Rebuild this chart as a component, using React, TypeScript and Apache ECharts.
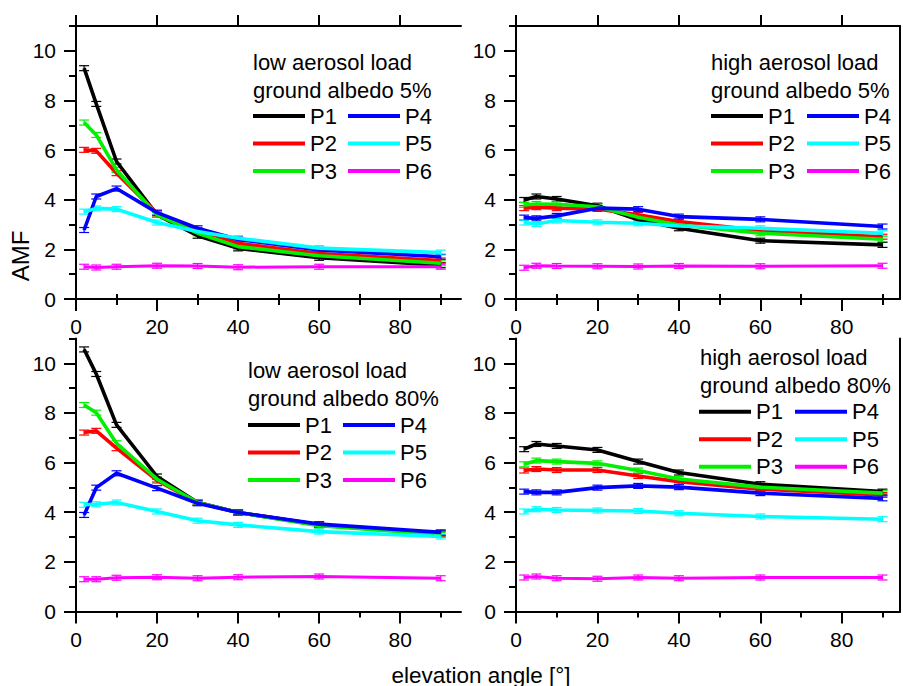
import React, { useEffect, useRef } from "react";
import * as echarts from "echarts";

const ANGLES = [2, 5, 10, 20, 30, 40, 60, 90];
const NAMES = ["P1", "P2", "P3", "P4", "P5", "P6"];
const COLORS = ["#000000", "#ff0000", "#00f000", "#0000ff", "#00ffff", "#ff00ff"];

const LOW_5 = [
  [9.3, 7.86, 5.54, 3.39, 2.55, 2.04, 1.66, 1.36],
  [6.01, 5.97, 5.07, 3.45, 2.78, 2.24, 1.83, 1.55],
  [7.11, 6.61, 5.2, 3.39, 2.65, 2.11, 1.74, 1.44],
  [2.78, 4.13, 4.45, 3.48, 2.85, 2.4, 1.98, 1.7],
  [3.52, 3.65, 3.62, 3.08, 2.72, 2.45, 2.05, 1.87],
  [1.3, 1.27, 1.3, 1.34, 1.33, 1.28, 1.3, 1.3],
];
const HIGH_5 = [
  [3.99, 4.13, 4.03, 3.76, 3.19, 2.85, 2.35, 2.18],
  [3.66, 3.7, 3.66, 3.63, 3.39, 3.12, 2.76, 2.51],
  [3.79, 3.83, 3.82, 3.72, 3.29, 2.98, 2.65, 2.41],
  [3.28, 3.25, 3.35, 3.66, 3.62, 3.32, 3.21, 2.92],
  [3.08, 3.02, 3.16, 3.09, 3.05, 2.94, 2.85, 2.65],
  [1.26, 1.34, 1.33, 1.32, 1.31, 1.33, 1.32, 1.34],
];
const LOW_80 = [
  [10.56, 9.57, 7.52, 5.44, 4.39, 3.99, 3.49, 3.15],
  [7.21, 7.28, 6.58, 5.28, 4.39, 3.99, 3.49, 3.11],
  [8.32, 8.01, 6.78, 5.33, 4.39, 3.99, 3.46, 3.09],
  [3.89, 4.99, 5.57, 4.97, 4.36, 3.99, 3.52, 3.19],
  [4.3, 4.32, 4.39, 4.03, 3.66, 3.49, 3.22, 3.02],
  [1.3, 1.3, 1.36, 1.38, 1.34, 1.38, 1.41, 1.34],
];
const HIGH_80 = [
  [6.54, 6.75, 6.67, 6.51, 6.04, 5.6, 5.13, 4.83],
  [5.68, 5.74, 5.7, 5.7, 5.46, 5.23, 4.93, 4.7],
  [5.93, 6.08, 6.04, 5.97, 5.68, 5.34, 5.01, 4.77],
  [4.83, 4.8, 4.8, 4.99, 5.06, 5.01, 4.77, 4.56],
  [4.03, 4.12, 4.09, 4.07, 4.05, 3.96, 3.83, 3.72],
  [1.37, 1.41, 1.34, 1.32, 1.37, 1.34, 1.37, 1.37],
];

const PANEL_TITLES = [
  "low aerosol load\nground albedo 5%",
  "high aerosol load\nground albedo 5%",
  "low aerosol load\nground albedo 80%",
  "high aerosol load\nground albedo 80%",
];
const PANEL_DATA = [LOW_5, HIGH_5, LOW_80, HIGH_80];

const X_MAJOR = [0, 20, 40, 60, 80];
const X_MINOR = [10, 30, 50, 70, 90];
const Y_MAJOR = [0, 2, 4, 6, 8, 10];
const Y_MINOR = [1, 3, 5, 7, 9, 11];

const X_LABEL = "elevation angle [°]";
const Y_LABEL = "AMF";

const FONT = "'Liberation Sans', Arial, Helvetica, sans-serif";
const ERR = 0.1;

// layout (style only)
const GRIDS = [
  { left: 76, top: 26, width: 385, height: 273, xmax: 95, topLine: true, rightLine: false },
  { left: 516, top: 26, width: 384, height: 273, xmax: 94.3, topLine: true, rightLine: true },
  { left: 76, top: 338.5, width: 385, height: 273, xmax: 95, topLine: false, rightLine: false },
  { left: 516, top: 338.5, width: 384, height: 273, xmax: 94.3, topLine: false, rightLine: true },
];
const TITLE_POS = [
  { left: 253, top: 48 },
  { left: 711, top: 48 },
  { left: 248, top: 356 },
  { left: 700, top: 343.5 },
];
const LEGEND_POS = [
  { l1: 253, l2: 348, row: 116 },
  { l1: 711, l2: 807, row: 116 },
  { l1: 248, l2: 343, row: 425 },
  { l1: 699, l2: 795, row: 411.7 },
];

function buildOption() {
  const grid: any[] = [];
  const xAxis: any[] = [];
  const yAxis: any[] = [];
  const series: any[] = [];
  const title: any[] = [];
  const legend: any[] = [];
  const axisLineStyle = { color: "#000", width: 2 };

  GRIDS.forEach((g, gi) => {
    grid.push({ left: g.left, top: g.top, width: g.width, height: g.height, containLabel: false });
    const base = { gridIndex: gi, type: "value", min: 0, max: g.xmax, splitLine: { show: false } };
    const xMainIndex = xAxis.length;
    xAxis.push({
      ...base,
      position: "bottom",
      axisLine: { show: true, onZero: false, lineStyle: axisLineStyle },
      axisTick: { show: true, inside: false, length: 12, customValues: X_MAJOR, lineStyle: axisLineStyle },
      axisLabel: { show: true, customValues: X_MAJOR, fontSize: 21, color: "#000", fontFamily: FONT, margin: 17 },
    });
    xAxis.push({
      ...base,
      position: "bottom",
      axisLine: { show: false },
      axisTick: { show: true, inside: false, length: 6, customValues: X_MINOR, lineStyle: axisLineStyle },
      axisLabel: { show: false },
    });
    if (g.topLine) {
      xAxis.push({
        ...base,
        position: "top",
        axisLine: { show: true, onZero: false, lineStyle: axisLineStyle },
        axisTick: { show: true, inside: false, length: 11, customValues: X_MAJOR, lineStyle: axisLineStyle },
        axisLabel: { show: false },
      });
      xAxis.push({
        ...base,
        position: "top",
        axisLine: { show: false },
        axisTick: { show: true, inside: false, length: 5, customValues: X_MINOR, lineStyle: axisLineStyle },
        axisLabel: { show: false },
      });
    }
    const ybase = { gridIndex: gi, type: "value", min: 0, max: 11, splitLine: { show: false } };
    const yMainIndex = yAxis.length;
    yAxis.push({
      ...ybase,
      position: "left",
      axisLine: { show: true, onZero: false, lineStyle: axisLineStyle },
      axisTick: { show: true, inside: false, length: 12, customValues: Y_MAJOR, lineStyle: axisLineStyle },
      axisLabel: { show: true, customValues: Y_MAJOR, fontSize: 21, color: "#000", fontFamily: FONT, margin: 20 },
    });
    yAxis.push({
      ...ybase,
      position: "left",
      axisLine: { show: false },
      axisTick: { show: true, inside: false, length: 7, customValues: Y_MINOR, lineStyle: axisLineStyle },
      axisLabel: { show: false },
    });
    if (g.rightLine) {
      yAxis.push({
        ...ybase,
        position: "right",
        axisLine: { show: true, onZero: false, lineStyle: axisLineStyle },
        axisTick: { show: false },
        axisLabel: { show: false },
      });
    }

    const panel = PANEL_DATA[gi];
    panel.forEach((vals, si) => {
      const pts = ANGLES.map((a, i) => [a, vals[i]]);
      const color = COLORS[si];
      series.push({
        type: "custom",
        name: NAMES[si] + " error",
        xAxisIndex: xMainIndex,
        yAxisIndex: yMainIndex,
        data: pts,
        encode: { x: 0, y: 1 },
        z: 1,
        renderItem: (params: any, api: any) => {
          const x = api.value(0);
          const y = api.value(1);
          const t = api.coord([x, y + ERR]);
          const b = api.coord([x, y - ERR]);
          const hw = 5;
          const st = { stroke: color, lineWidth: 1.2 };
          return {
            type: "group",
            children: [
              { type: "line", shape: { x1: t[0], y1: t[1], x2: b[0], y2: b[1] }, style: st },
              { type: "line", shape: { x1: t[0] - hw, y1: t[1], x2: t[0] + hw, y2: t[1] }, style: st },
              { type: "line", shape: { x1: b[0] - hw, y1: b[1], x2: b[0] + hw, y2: b[1] }, style: st },
            ],
          };
        },
      });
      series.push({
        type: "line",
        name: NAMES[si],
        xAxisIndex: xMainIndex,
        yAxisIndex: yMainIndex,
        data: pts,
        symbol: "none",
        lineStyle: { color, width: si === 5 ? 3 : 3.6 },
        itemStyle: { color },
        z: 2 + si * 0.01,
      });
    });

    title.push({
      text: PANEL_TITLES[gi],
      left: TITLE_POS[gi].left,
      top: TITLE_POS[gi].top,
      padding: 0,
      textStyle: { fontSize: 22, fontWeight: "normal", lineHeight: 28, color: "#000", fontFamily: FONT },
    });
    const lp = LEGEND_POS[gi];
    const legendCommon = {
      orient: "vertical",
      top: lp.row - 11,
      padding: 0,
      itemWidth: 52,
      itemHeight: 4,
      itemGap: 5.5,
      icon: "rect",
      selectedMode: false,
      textStyle: { fontSize: 22, lineHeight: 22, color: "#000", fontFamily: FONT },
    };
    legend.push({ ...legendCommon, left: lp.l1, data: NAMES.slice(0, 3) });
    legend.push({ ...legendCommon, left: lp.l2, data: NAMES.slice(3, 6) });
  });

  return {
    animation: false,
    backgroundColor: "#ffffff",
    grid,
    xAxis,
    yAxis,
    series,
    title,
    legend,
    graphic: [
      {
        type: "text",
        x: 20,
        y: 256,
        rotation: Math.PI / 2,
        style: { text: Y_LABEL, fontSize: 24, fill: "#000", fontFamily: FONT, align: "center", verticalAlign: "middle" },
      },
      {
        type: "text",
        x: 481,
        y: 675,
        style: { text: X_LABEL, fontSize: 22.5, fill: "#000", fontFamily: FONT, align: "center", verticalAlign: "middle" },
      },
    ],
  };
}

export default function App() {
  const ref = useRef<HTMLDivElement>(null);
  useEffect(() => {
    if (!ref.current) return;
    const chart = echarts.init(ref.current, undefined, { renderer: "svg" });
    chart.setOption(buildOption() as any);
    return () => chart.dispose();
  }, []);
  return (
    <div
      ref={ref}
      style={{ position: "absolute", left: 0, top: 0, width: 903, height: 686, background: "#fff" }}
    />
  );
}
